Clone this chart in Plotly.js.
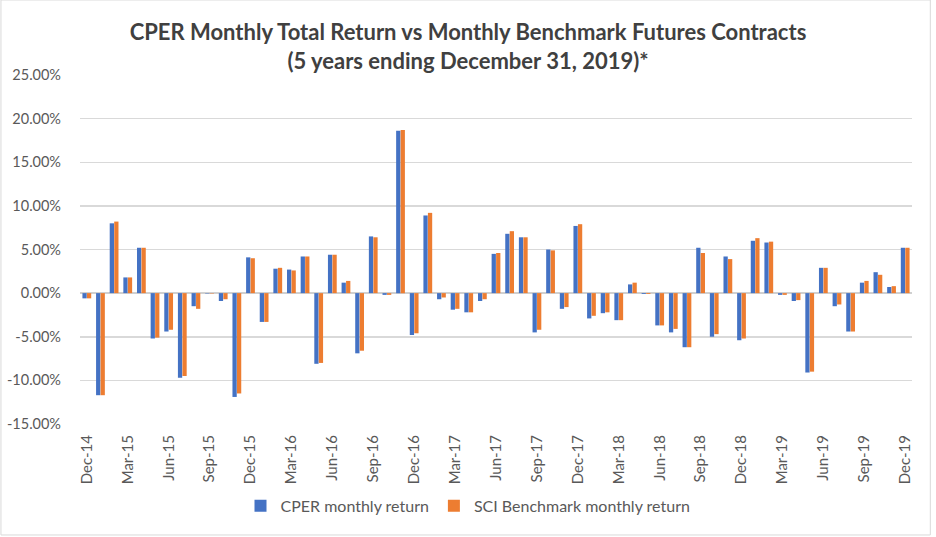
<!DOCTYPE html>
<html>
<head>
<meta charset="utf-8">
<script src="https://cdn.plot.ly/plotly-3.0.1.min.js"></script>
<style>html,body{margin:0;padding:0;background:#fff;}#chart{width:936px;height:537px;}</style>
</head>
<body>
<div id="chart"></div>
<script>
const months = ["Dec-14","Jan-15","Feb-15","Mar-15","Apr-15","May-15","Jun-15","Jul-15","Aug-15","Sep-15","Oct-15","Nov-15",
"Dec-15","Jan-16","Feb-16","Mar-16","Apr-16","May-16","Jun-16","Jul-16","Aug-16","Sep-16","Oct-16","Nov-16",
"Dec-16","Jan-17","Feb-17","Mar-17","Apr-17","May-17","Jun-17","Jul-17","Aug-17","Sep-17","Oct-17","Nov-17",
"Dec-17","Jan-18","Feb-18","Mar-18","Apr-18","May-18","Jun-18","Jul-18","Aug-18","Sep-18","Oct-18","Nov-18",
"Dec-18","Jan-19","Feb-19","Mar-19","Apr-19","May-19","Jun-19","Jul-19","Aug-19","Sep-19","Oct-19","Nov-19","Dec-19"];
const cperReturn = [-0.6,-11.7,8.0,1.8,5.2,-5.2,-4.4,-9.7,-1.5,-0.05,-0.9,-11.9,
4.1,-3.3,2.8,2.7,4.2,-8.1,4.4,1.2,-6.9,6.5,-0.2,18.6,
-4.8,8.9,-0.7,-1.9,-2.2,-0.9,4.5,6.8,6.4,-4.5,5.0,-1.8,
7.7,-2.9,-2.3,-3.1,1.0,-0.1,-3.7,-4.5,-6.2,5.2,-5.0,4.2,
-5.4,6.0,5.8,-0.2,-0.9,-9.1,2.9,-1.5,-4.4,1.2,2.4,0.7,5.2];
const sciReturn = [-0.6,-11.7,8.2,1.8,5.2,-5.1,-4.2,-9.5,-1.8,-0.05,-0.7,-11.5,
4.0,-3.3,2.9,2.6,4.2,-8.0,4.4,1.4,-6.6,6.4,-0.2,18.7,
-4.6,9.2,-0.5,-1.8,-2.2,-0.7,4.6,7.1,6.4,-4.2,4.9,-1.6,
7.9,-2.6,-2.2,-3.1,1.2,-0.1,-3.7,-4.1,-6.2,4.6,-4.7,3.9,
-5.2,6.3,5.9,-0.2,-0.8,-9.0,2.9,-1.3,-4.4,1.4,2.1,0.8,5.2];
const tickLabels = months.filter((m, i) => i % 3 === 0);
const yTicks = [-15,-10,-5,0,5,10,15,20,25];

const font = "Lato, 'Open Sans', sans-serif";
const data = [
  {type:"bar", name:"CPER monthly return", x:months, y:cperReturn, marker:{color:"#4472C4"}},
  {type:"bar", name:"SCI Benchmark monthly return", x:months, y:sciReturn, marker:{color:"#ED7D31"}}
];
const layout = {
  width:936, height:537,
  margin:{l:80, r:24, t:75, b:113},
  paper_bgcolor:"#fff", plot_bgcolor:"#fff",
  font:{family:font, color:"#595959", size:12},
  title:{text:"<b>CPER Monthly Total Return vs Monthly Benchmark Futures Contracts<br>(5 years ending December 31, 2019)*</b>",
         x:0.5, xanchor:"center", y:0.925, yanchor:"top",
         font:{family:font, size:22, color:"#404040"}},
  barmode:"group", bargap:0.34, bargroupgap:0.05,
  showlegend:true,
  legend:{orientation:"h", x:0.5, xanchor:"center", xref:"container", y:0.058, yref:"container", yanchor:"middle",
          font:{family:font, size:16, color:"#595959"}, traceorder:"normal"},
  xaxis:{type:"category", tickmode:"array", tickvals:tickLabels, ticktext:tickLabels,
         tickangle:-90, showgrid:false, showline:false, ticks:"", zeroline:false,
         ticklabelstandoff:7,
         tickfont:{family:font, size:15, color:"#595959"}, automargin:false},
  yaxis:{range:[-15,25], tickmode:"array", tickvals:yTicks,
         ticktext:yTicks.map(v => v.toFixed(2) + "%"),
         showgrid:true, gridcolor:"#d9d9d9", gridwidth:1.5,
         zeroline:true, zerolinecolor:"#d0d0d0", zerolinewidth:1.5,
         showline:false, ticks:"", ticklen:0, ticklabelstandoff:18,
         tickfont:{family:font, size:14.5, color:"#595959"}, automargin:false},
  shapes:[{type:"rect", xref:"paper", yref:"paper", x0:-0.095, x1:1.022, y0:-0.318, y1:1.215,
           line:{color:"#d9d9d9", width:1}}]
};
Plotly.newPlot("chart", data, layout, {displayModeBar:false, staticPlot:true});
</script>
</body>
</html>
